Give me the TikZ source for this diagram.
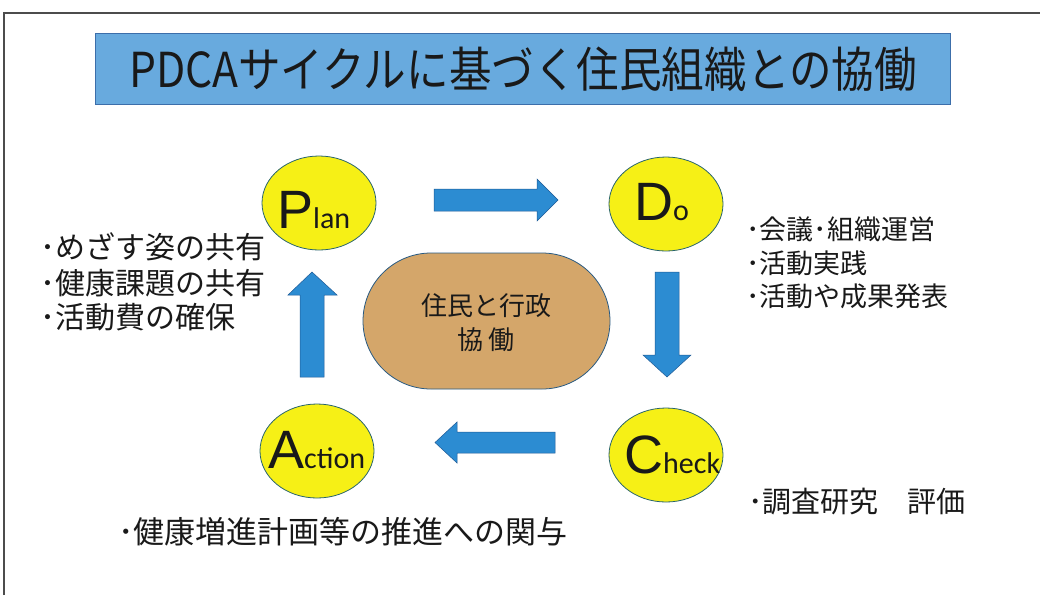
\documentclass[tikz,border=0pt]{standalone}
\usepackage{fontspec}
\newfontfamily\jp{Noto Sans CJK JP}
\newfontfamily\bigf{Liberation Sans}
\newfontfamily\smallf{Carlito}
\definecolor{titlefill}{RGB}{104,170,222}
\definecolor{titledraw}{RGB}{60,110,170}
\definecolor{arrowfill}{RGB}{44,140,210}
\definecolor{arrowdraw}{RGB}{30,90,150}
\definecolor{ballfill}{RGB}{246,240,22}
\definecolor{balldraw}{RGB}{40,100,110}
\definecolor{tanfill}{RGB}{212,166,106}
\definecolor{tandraw}{RGB}{40,90,130}
\definecolor{ink}{RGB}{25,25,25}
\tikzset{
  ball/.style={ellipse, draw=balldraw, fill=ballfill, line width=0.8pt, minimum width=114pt, minimum height=94pt, inner sep=0pt},
  blockarrow/.style={fill=arrowfill, draw=arrowdraw, line width=0.5pt},
  jplabel/.style={font=\jp, text=ink, inner sep=0pt, anchor=west},
  phase/.style={inner sep=0pt, anchor=base west, text=ink},
}
\usetikzlibrary{shapes.geometric}
\begin{document}
\begin{tikzpicture}[x=1pt,y=-1pt]
\useasboundingbox (0,0) rectangle (1040,595);
\fill[white] (0,0) rectangle (1040,595);
% frame
\draw[line width=1.4pt, color=black!70] (4,595) -- (4,13) -- (1040,13);
% title
\node[draw=titledraw, fill=titlefill, line width=0.8pt, minimum width=855pt, minimum height=71pt, inner sep=0pt, anchor=north west] (title) at (95,33) {};
\node[font=\jp\fontsize{43}{43}\selectfont, text=ink, inner sep=0pt] (titletext) at (523,69) {\scalebox{0.99}[1.12]{PDCAサイクルに基づく住民組織との協働}};
% circles
\node[ball] (plan) at (319,203) {};
\node[ball] (do) at (666,204) {};
\node[ball] (action) at (317,451) {};
\node[ball] (check) at (666,455) {};
\node[phase] (planlbl) at (277,228) {{\bigf\fontsize{54}{54}\selectfont P}{\smallf\fontsize{30}{30}\selectfont lan}};
\node[phase] (dolbl) at (634,220) {{\bigf\fontsize{54}{54}\selectfont D}{\smallf\fontsize{30}{30}\selectfont o}};
\node[phase] (actionlbl) at (268,468) {{\bigf\fontsize{54}{54}\selectfont A}{\smallf\fontsize{30}{30}\selectfont ction}};
\node[phase] (checklbl) at (624,473) {{\bigf\fontsize{54}{54}\selectfont C}{\smallf\fontsize{30}{30}\selectfont heck}};
% centre
\node[draw=tandraw, fill=tanfill, line width=0.8pt, rounded corners=68pt, minimum width=247pt, minimum height=136pt, inner sep=0pt] (centre) at (486.5,321) {};
\node[font=\jp\fontsize{26}{34}\selectfont, text=ink, align=center, inner sep=0pt] (centretext) at (486,323) {住民と行政\\協\,働};
% block arrows
\draw[blockarrow] (434,189) -- (537,189) -- (537,179) -- (558,200) -- (537,221) -- (537,211) -- (434,211) -- cycle;
\draw[blockarrow] (655,272) -- (679,272) -- (679,355) -- (691,355) -- (667,377) -- (643,355) -- (655,355) -- cycle;
\draw[blockarrow] (555,432) -- (457,432) -- (457,422) -- (435,442.5) -- (457,463) -- (457,453) -- (555,453) -- cycle;
\draw[blockarrow] (300,377) -- (300,295) -- (288,295) -- (312,272) -- (337,295) -- (324,295) -- (324,377) -- cycle;
% lists
\node[jplabel, font=\jp\fontsize{30}{30}\selectfont] (p1) at (40,247) {･めざす姿の共有};
\node[jplabel, font=\jp\fontsize{30}{30}\selectfont] (p2) at (40,283) {･健康課題の共有};
\node[jplabel, font=\jp\fontsize{30}{30}\selectfont] (p3) at (40,317) {･活動費の確保};
\node[jplabel, font=\jp\fontsize{27}{27}\selectfont] (d1) at (746,229) {･会議･組織運営};
\node[jplabel, font=\jp\fontsize{27}{27}\selectfont] (d2) at (746,263) {･活動実践};
\node[jplabel, font=\jp\fontsize{27}{27}\selectfont] (d3) at (746,296) {･活動や成果発表};
\node[jplabel, font=\jp\fontsize{29}{29}\selectfont] (c1) at (748,502) {･調査研究　評価};
\node[jplabel, font=\jp\fontsize{31}{31}\selectfont] (a1) at (118,532) {･健康増進計画等の推進への関与};
\end{tikzpicture}
\end{document}
